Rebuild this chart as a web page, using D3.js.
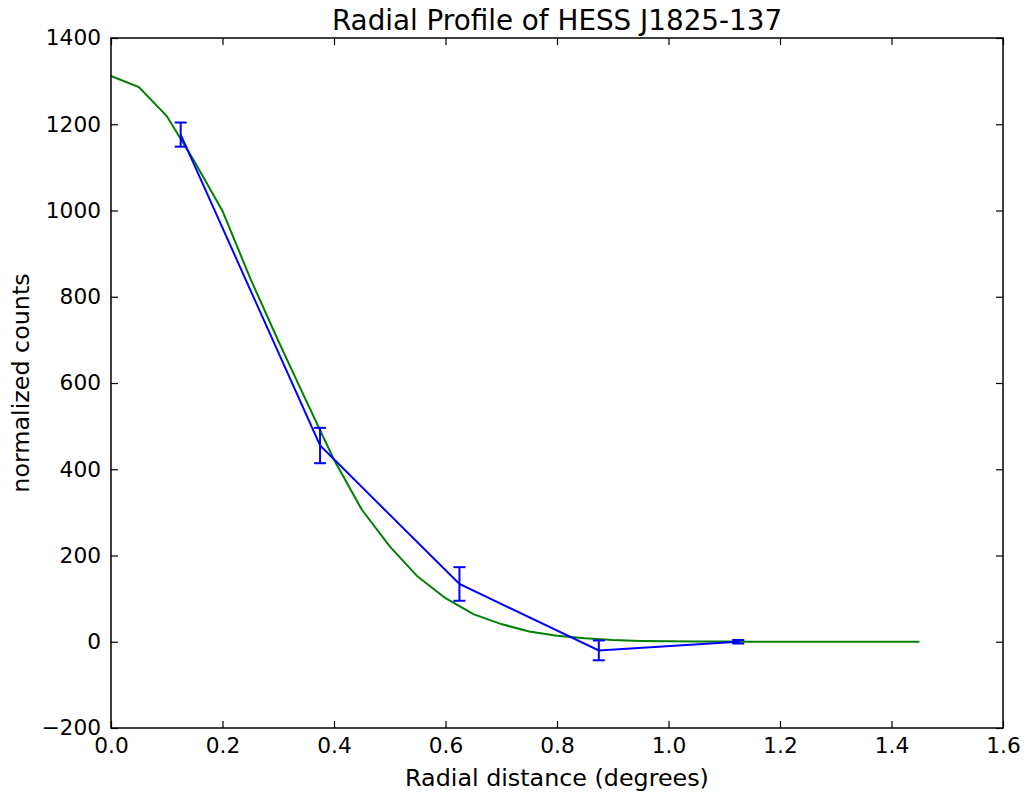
<!DOCTYPE html>
<html>
<head>
<meta charset="utf-8">
<script src="https://cdn.jsdelivr.net/npm/d3@7"></script>
<style>
  body { margin: 0; background: #fff; }
  text { font-family: "DejaVu Sans", sans-serif; fill: #000; }
</style>
</head>
<body>
<div id="chart"></div>
<script>
// measured profile (blue, with error bars)
const dataX = [0.125, 0.375, 0.625, 0.875, 1.125];
const dataY = [1176, 455, 134, -20, 0];
const dataErr = [28, 41, 39, 23, 4];

// model curve (green)
const modelX = [0, 0.05, 0.1, 0.15, 0.2, 0.25, 0.3, 0.35, 0.4, 0.45, 0.5, 0.55, 0.6, 0.65, 0.7,
  0.75, 0.8, 0.85, 0.9, 0.95, 1.0, 1.05, 1.1, 1.15, 1.2, 1.25, 1.3, 1.35, 1.4, 1.45];
const modelY = [1312, 1286, 1219, 1113, 999, 842, 698, 559, 422, 306, 221, 151, 101, 64, 41,
  24, 14, 8, 4, 2, 1, 0.5, 0.3, 0.1, 0, 0, 0, 0, 0, 0];

const xTicks = [0, 0.2, 0.4, 0.6, 0.8, 1.0, 1.2, 1.4, 1.6];
const yTicks = [-200, 0, 200, 400, 600, 800, 1000, 1200, 1400];

const W = 1027, H = 796;
const m = {left: 111, right: 24, top: 38, bottom: 68};
const iw = W - m.left - m.right, ih = H - m.top - m.bottom;

const svg = d3.select("#chart").append("svg")
  .attr("width", W).attr("height", H);

const x = d3.scaleLinear().domain([0, 1.6]).range([0, iw]);
const y = d3.scaleLinear().domain([-200, 1400]).range([ih, 0]);

const g = svg.append("g").attr("transform", `translate(${m.left},${m.top})`);

// ticks inward on all four sides
const tl = 7;
const fmtY = d => d < 0 ? "\u2212" + Math.abs(d) : String(d);
g.append("g").attr("transform", `translate(0,${ih})`)
  .call(d3.axisBottom(x).tickValues(xTicks).tickFormat(d3.format(".1f")).tickSizeInner(-tl).tickSizeOuter(0).tickPadding(10));
g.append("g").call(d3.axisTop(x).tickValues(xTicks).tickFormat("").tickSizeInner(-tl).tickSizeOuter(0));
g.append("g").call(d3.axisLeft(y).tickValues(yTicks).tickFormat(fmtY).tickSizeInner(-tl).tickSizeOuter(0).tickPadding(10));
g.append("g").attr("transform", `translate(${iw},0)`)
  .call(d3.axisRight(y).tickValues(yTicks).tickFormat("").tickSizeInner(-tl).tickSizeOuter(0));

g.selectAll(".domain").remove();
g.selectAll(".tick line").attr("stroke", "#000").attr("stroke-width", 1.2);
g.selectAll(".tick text").style("font-size", "21.7px").style("font-family", "DejaVu Sans");

const plot = g.append("g");

// model line
plot.append("path")
  .datum(modelX.map((v, i) => [v, modelY[i]]))
  .attr("fill", "none").attr("stroke", "#008000").attr("stroke-width", 2)
  .attr("d", d3.line().x(d => x(d[0])).y(d => y(d[1])));

// data line
const pts = dataX.map((v, i) => ({x: v, y: dataY[i], e: dataErr[i]}));
plot.append("path")
  .datum(pts)
  .attr("fill", "none").attr("stroke", "#0000ff").attr("stroke-width", 2)
  .attr("d", d3.line().x(d => x(d.x)).y(d => y(d.y)));

// error bars
const eb = plot.selectAll(".eb").data(pts).join("g").attr("class", "eb")
  .attr("stroke", "#0000ff").attr("stroke-width", 2);
eb.append("line")
  .attr("x1", d => x(d.x)).attr("x2", d => x(d.x))
  .attr("y1", d => y(d.y - d.e)).attr("y2", d => y(d.y + d.e));
eb.append("line")
  .attr("x1", d => x(d.x) - 6).attr("x2", d => x(d.x) + 6)
  .attr("y1", d => y(d.y + d.e)).attr("y2", d => y(d.y + d.e));
eb.append("line")
  .attr("x1", d => x(d.x) - 6).attr("x2", d => x(d.x) + 6)
  .attr("y1", d => y(d.y - d.e)).attr("y2", d => y(d.y - d.e));

// frame
g.append("rect").attr("width", iw).attr("height", ih)
  .attr("fill", "none").attr("stroke", "#000").attr("stroke-width", 1.5);

// labels
svg.append("text").attr("x", m.left + iw / 2).attr("y", 30)
  .attr("text-anchor", "middle").style("font-size", "27.8px")
  .text("Radial Profile of HESS J1825-137");
svg.append("text").attr("x", m.left + iw / 2).attr("y", 786)
  .attr("text-anchor", "middle").style("font-size", "23.8px")
  .text("Radial distance (degrees)");
svg.append("text")
  .attr("transform", `translate(29,${m.top + ih / 2}) rotate(-90)`)
  .attr("text-anchor", "middle").style("font-size", "23.8px")
  .text("normalized counts");
</script>
</body>
</html>
